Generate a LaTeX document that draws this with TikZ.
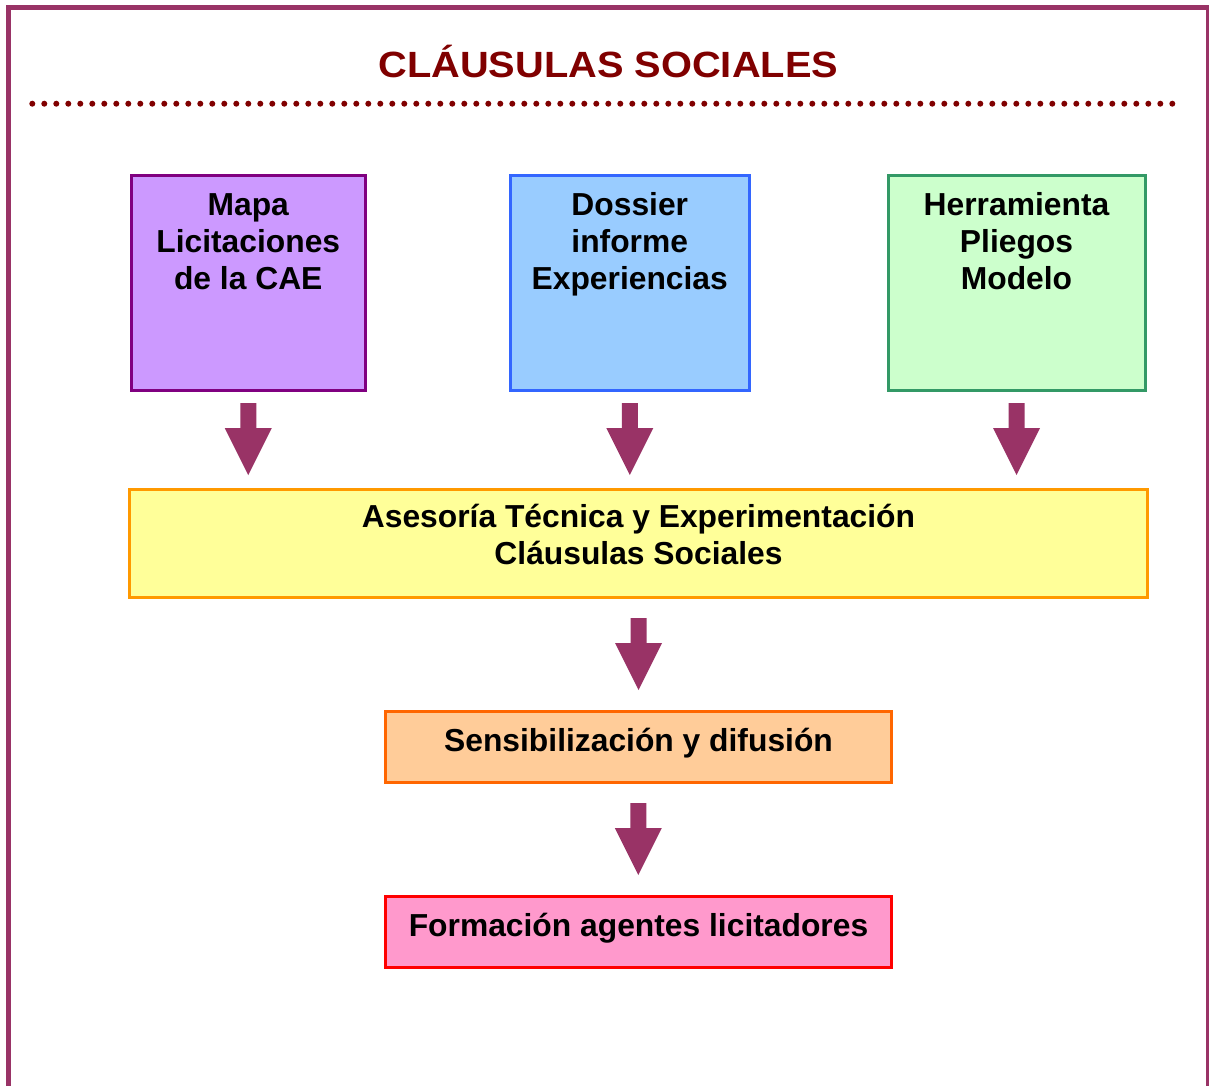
\documentclass[tikz,border=0pt]{standalone}
\usepackage{fontspec}
\setmainfont{Liberation Sans}
\usetikzlibrary{calc}
\definecolor{framec}{HTML}{993366}
\definecolor{titlec}{HTML}{800000}
\definecolor{arrowc}{HTML}{993366}
\definecolor{bApurple}{HTML}{800080}
\definecolor{fApurple}{HTML}{CC99FF}
\definecolor{bBblue}{HTML}{3366FF}
\definecolor{fBblue}{HTML}{99CCFF}
\definecolor{bCgreen}{HTML}{339966}
\definecolor{fCgreen}{HTML}{CCFFCC}
\definecolor{bDyel}{HTML}{FF9900}
\definecolor{fDyel}{HTML}{FFFF99}
\definecolor{bEora}{HTML}{FF6600}
\definecolor{fEora}{HTML}{FFCC99}
\definecolor{bFpink}{HTML}{FF0000}
\definecolor{fFpink}{HTML}{FF99CC}
\begin{document}
\begin{tikzpicture}[x=1pt,y=-1pt,
  boxnode/.style={draw, line width=3pt, rectangle, outer sep=0pt, inner sep=0pt},
  lbl/.style={font=\fontsize{31.8}{37}\selectfont\bfseries, anchor=base, inner sep=0pt, text=black},
  darr/.pic={\fill[arrowc] (-8,0) -- (8,0) -- (8,25) -- (23.5,25) -- (0,72) -- (-23.5,25) -- (-8,25) -- cycle;}
]
\useasboundingbox (0,0) rectangle (1209,1085);
\fill[white] (0,0) rectangle (1209,1085);
\draw[framec, line width=5pt] (8.5,7) rectangle (1208,1092);

\node[font=\fontsize{36.5}{40}\selectfont\bfseries, text=titlec, anchor=base, inner sep=0pt, xscale=1.09] (title) at (608.3,77.7) {CLÁUSULAS SOCIALES};
\coordinate (dotA) at (32.3,103.7);
\coordinate (dotB) at (1173.5,103.7);
\draw[titlec, line width=6pt, line cap=round, dash pattern=on 0pt off 12pt] (dotA) -- (dotB);

\node[boxnode, draw=bApurple, fill=fApurple, minimum width=233.5pt, minimum height=215.5pt] (b1) at (248.25,282.75) {};
\node[boxnode, draw=bBblue, fill=fBblue, minimum width=238.5pt, minimum height=215.5pt] (b2) at (629.75,282.75) {};
\node[boxnode, draw=bCgreen, fill=fCgreen, minimum width=257pt, minimum height=215.5pt] (b3) at (1016.5,282.75) {};
\node[boxnode, draw=bDyel, fill=fDyel, minimum width=1018pt, minimum height=108pt] (b4) at (638.5,543) {};
\node[boxnode, draw=bEora, fill=fEora, minimum width=505.5pt, minimum height=71pt] (b5) at (638.25,746.5) {};
\node[boxnode, draw=bFpink, fill=fFpink, minimum width=505.5pt, minimum height=71pt] (b6) at (638.25,931.5) {};

\node[lbl] (t1a) at (248.25,215) {Mapa};
\node[lbl] (t1b) at (248.25,252.5) {Licitaciones};
\node[lbl] (t1c) at (248.25,289.5) {de la CAE};
\node[lbl] (t2a) at (629.75,215) {Dossier};
\node[lbl] (t2b) at (629.75,252.5) {informe};
\node[lbl] (t2c) at (629.75,289.5) {Experiencias};
\node[lbl] (t3a) at (1016.5,215) {Herramienta};
\node[lbl] (t3b) at (1016.5,252.5) {Pliegos};
\node[lbl] (t3c) at (1016.5,289.5) {Modelo};
\node[lbl] (t4a) at (638.5,527.5) {Asesoría Técnica y Experimentación};
\node[lbl] (t4b) at (638.5,564) {Cláusulas Sociales};
\node[lbl] (t5) at (638.5,751.5) {Sensibilización y difusión};
\node[lbl] (t6) at (638.5,936) {Formación agentes licitadores};

\pic at ($(b1.south)+(0,12.5)$) {darr};
\pic at ($(b2.south)+(0,12.5)$) {darr};
\pic at ($(b3.south)+(0,12.5)$) {darr};
\pic at ($(b4.south)+(0,21)$) {darr};
\pic at ($(b5.south)+(0,21)$) {darr};
\end{tikzpicture}
\end{document}
